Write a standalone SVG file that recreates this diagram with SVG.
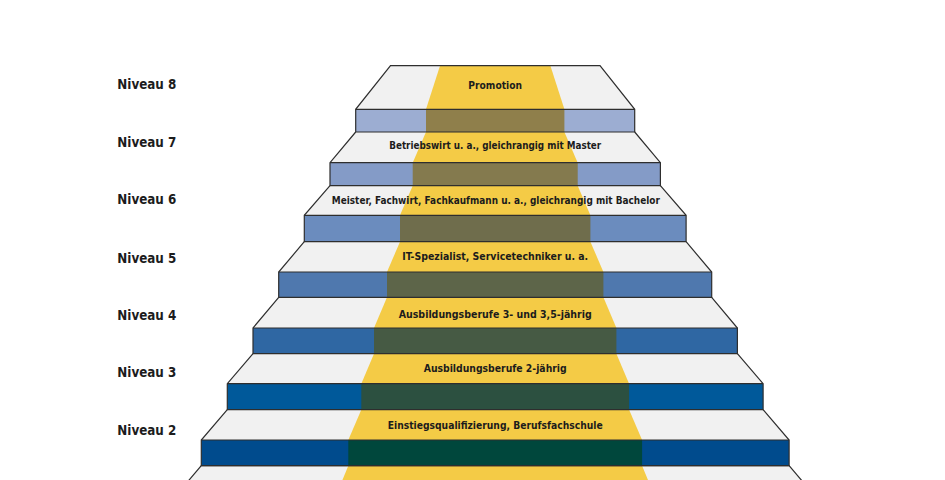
<svg xmlns="http://www.w3.org/2000/svg" width="945" height="480" viewBox="0 0 945 480">
<style>
.tread{fill:#f1f1f1}
.carpet{fill:#f4cb46}
.edge{fill:none;stroke:#2e2e2e;stroke-width:1.2;stroke-linejoin:miter}
.lbl{font-family:"DejaVu Sans Condensed","Liberation Sans Narrow","Liberation Sans",sans-serif;font-weight:bold;font-size:10.5px;fill:#1c1c1c;text-anchor:middle}
.niv{font-family:"DejaVu Sans Condensed","Liberation Sans Narrow","Liberation Sans",sans-serif;font-weight:bold;font-size:14px;fill:#1c1c1c}
</style>
<rect width="945" height="480" fill="#ffffff"/>

<g id="step1">
<polygon class="tread" points="201.3,465.7 789.1,465.7 803,482 187.4,482"/>
<polygon class="carpet" points="348.3,465.7 642.1,465.7 648.8,482 341.6,482"/>
<polyline class="edge" points="187.4,482 201.3,465.7 789.1,465.7 803,482"/>
</g>

<g id="step2">
<polygon class="tread" points="227.3,409.7 763.1,409.7 789.1,440 201.3,440"/>
<polygon class="carpet" points="361.3,409.7 629.1,409.7 642.1,440 348.3,440"/>
<rect x="201.3" y="440" width="587.8" height="25.7" fill="#004b8d"/>
<rect x="348.3" y="440" width="293.8" height="25.7" fill="#00473c"/>
<polyline class="edge" points="227.3,409.7 201.3,440 201.3,465.7 789.1,465.7 789.1,440 763.1,409.7"/>
<line class="edge" x1="201.3" y1="440" x2="789.1" y2="440"/>
<text class="lbl" x="495.2" y="429" textLength="215" lengthAdjust="spacingAndGlyphs">Einstiegsqualifizierung, Berufsfachschule</text>
</g>

<g id="step3">
<polygon class="tread" points="253,353.7 737.4,353.7 763.1,383.7 227.3,383.7"/>
<polygon class="carpet" points="374,353.7 616.4,353.7 629.1,383.7 361.3,383.7"/>
<rect x="227.3" y="383.7" width="535.8" height="26" fill="#00599a"/>
<rect x="361.3" y="383.7" width="267.8" height="26" fill="#2c5040"/>
<polyline class="edge" points="253,353.7 227.3,383.7 227.3,409.7 763.1,409.7 763.1,383.7 737.4,353.7"/>
<line class="edge" x1="227.3" y1="383.7" x2="763.1" y2="383.7"/>
<text class="lbl" x="495.2" y="372.3" textLength="143" lengthAdjust="spacingAndGlyphs">Ausbildungsberufe 2-jährig</text>
</g>

<g id="step4">
<polygon class="tread" points="278.7,297.3 711.7,297.3 737.4,328 253,328"/>
<polygon class="carpet" points="387,297.3 603.4,297.3 616.4,328 374,328"/>
<rect x="253" y="328" width="484.4" height="25.7" fill="#2f67a3"/>
<rect x="374" y="328" width="242.4" height="25.7" fill="#465a44"/>
<polyline class="edge" points="278.7,297.3 253,328 253,353.7 737.4,353.7 737.4,328 711.7,297.3"/>
<line class="edge" x1="253" y1="328" x2="737.4" y2="328"/>
<text class="lbl" x="495.2" y="317.7" textLength="193" lengthAdjust="spacingAndGlyphs">Ausbildungsberufe 3- und 3,5-jährig</text>
</g>

<g id="step5">
<polygon class="tread" points="304.3,241.7 686.1,241.7 711.7,272 278.7,272"/>
<polygon class="carpet" points="400,241.7 590.4,241.7 603.4,272 387,272"/>
<rect x="278.7" y="272" width="433" height="25.3" fill="#4f78ae"/>
<rect x="387" y="272" width="216.4" height="25.3" fill="#5d6549"/>
<polyline class="edge" points="304.3,241.7 278.7,272 278.7,297.3 711.7,297.3 711.7,272 686.1,241.7"/>
<line class="edge" x1="278.7" y1="272" x2="711.7" y2="272"/>
<text class="lbl" x="495.2" y="260" textLength="186" lengthAdjust="spacingAndGlyphs">IT-Spezialist, Servicetechniker u. a.</text>
</g>

<g id="step6">
<polygon class="tread" points="330,185.7 660.4,185.7 686.1,215.3 304.3,215.3"/>
<polygon class="carpet" points="412.7,185.7 577.7,185.7 590.4,215.3 400,215.3"/>
<rect x="304.3" y="215.3" width="381.8" height="26.4" fill="#6b8cbe"/>
<rect x="400" y="215.3" width="190.4" height="26.4" fill="#6f6d4c"/>
<polyline class="edge" points="330,185.7 304.3,215.3 304.3,241.7 686.1,241.7 686.1,215.3 660.4,185.7"/>
<line class="edge" x1="304.3" y1="215.3" x2="686.1" y2="215.3"/>
<text class="lbl" x="495.8" y="204" textLength="328" lengthAdjust="spacingAndGlyphs">Meister, Fachwirt, Fachkaufmann u. a., gleichrangig mit Bachelor</text>
</g>

<g id="step7">
<polygon class="tread" points="355.7,132 634.7,132 660.4,162.7 330,162.7"/>
<polygon class="carpet" points="426,132 564.4,132 577.7,162.7 412.7,162.7"/>
<rect x="330" y="162.7" width="330.4" height="23" fill="#849bc7"/>
<rect x="412.7" y="162.7" width="165" height="23" fill="#847a4e"/>
<polyline class="edge" points="355.7,132 330,162.7 330,185.7 660.4,185.7 660.4,162.7 634.7,132"/>
<line class="edge" x1="330" y1="162.7" x2="660.4" y2="162.7"/>
<text class="lbl" x="495.2" y="149.3" textLength="212" lengthAdjust="spacingAndGlyphs">Betriebswirt u. a., gleichrangig mit Master</text>
</g>

<g id="step8">
<polygon class="tread" points="390.5,65.7 600,65.7 634.7,109.3 355.7,109.3" fill="#f4f4f4"/>
<polygon class="carpet" points="440,65.7 550.4,65.7 564.4,109.3 426,109.3"/>
<rect x="355.7" y="109.3" width="279" height="22.7" fill="#9cadd2"/>
<rect x="426" y="109.3" width="138.4" height="22.7" fill="#8f7f4b"/>
<polygon class="edge" points="390.5,65.7 600,65.7 634.7,109.3 634.7,132 355.7,132 355.7,109.3"/>
<line class="edge" x1="355.7" y1="109.3" x2="634.7" y2="109.3"/>
<text class="lbl" x="495.2" y="89" textLength="53.7" lengthAdjust="spacingAndGlyphs">Promotion</text>
</g>

<g id="levels">
<text class="niv" x="117.3" y="89" textLength="59" lengthAdjust="spacingAndGlyphs">Niveau 8</text>
<text class="niv" x="117.3" y="146.5" textLength="59" lengthAdjust="spacingAndGlyphs">Niveau 7</text>
<text class="niv" x="117.3" y="204" textLength="59" lengthAdjust="spacingAndGlyphs">Niveau 6</text>
<text class="niv" x="117.3" y="262.7" textLength="59" lengthAdjust="spacingAndGlyphs">Niveau 5</text>
<text class="niv" x="117.3" y="320" textLength="59" lengthAdjust="spacingAndGlyphs">Niveau 4</text>
<text class="niv" x="117.3" y="377.3" textLength="59" lengthAdjust="spacingAndGlyphs">Niveau 3</text>
<text class="niv" x="117.3" y="435" textLength="59" lengthAdjust="spacingAndGlyphs">Niveau 2</text>
</g>

<g id="connectors"></g>
</svg>
